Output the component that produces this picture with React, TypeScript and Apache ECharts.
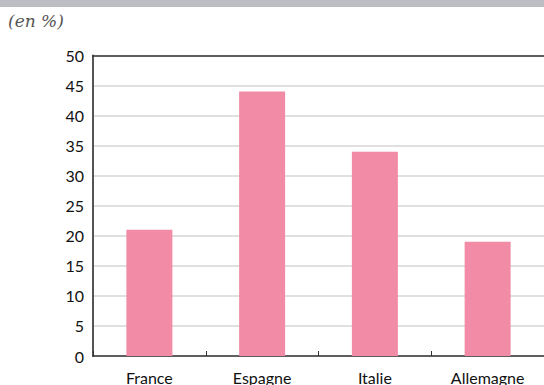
import React, { useEffect, useRef } from "react";
import * as echarts from "echarts";

const categories = ["France", "Espagne", "Italie", "Allemagne"];
const values = [21, 44, 34, 19];

export default function App() {
  const ref = useRef<HTMLDivElement>(null);
  useEffect(() => {
    const chart = echarts.init(ref.current!, null, { renderer: "svg" });
    const font = "Lato, 'Open Sans', sans-serif";
    chart.setOption({
      animation: false,
      graphic: [
        { type: "rect", shape: { x: 0, y: 0, width: 544, height: 7 }, style: { fill: "#BDBEC3" } },
        {
          type: "text",
          left: 8,
          top: 12,
          style: { text: "(en %)", font: "italic 17px 'DejaVu Serif', 'Liberation Serif', serif", fill: "#555" },
        },
      ],
      grid: { left: 93, right: 0, top: 55.5, bottom: 27.5 },
      xAxis: [
        {
          type: "category",
          data: categories,
          axisLine: { lineStyle: { color: "#333", width: 1.5 } },
          axisTick: { show: true, inside: true, length: 5, lineStyle: { color: "#333" } },
          axisLabel: { color: "#111", fontSize: 16, fontFamily: font, margin: 13 },
        },
        {
          type: "category",
          position: "top",
          data: categories,
          axisLine: { show: true, lineStyle: { color: "#333", width: 1.5 } },
          axisTick: { show: false },
          axisLabel: { show: false },
        },
      ],
      yAxis: {
        type: "value",
        min: 0,
        max: 50,
        interval: 5,
        axisLine: { show: true, lineStyle: { color: "#555", width: 2 } },
        axisTick: { show: false },
        axisLabel: { color: "#111", fontSize: 16, fontFamily: font, margin: 9 },
        splitLine: { lineStyle: { color: "#d6d6d6", width: 1.5 } },
      },
      series: [
        {
          type: "bar",
          data: values,
          barWidth: 46,
          itemStyle: { color: "#F28BA5" },
        },
      ],
    });
    return () => chart.dispose();
  }, []);
  return <div ref={ref} style={{ width: 544, height: 385, position: "absolute", left: 0, top: 0 }} />;
}
